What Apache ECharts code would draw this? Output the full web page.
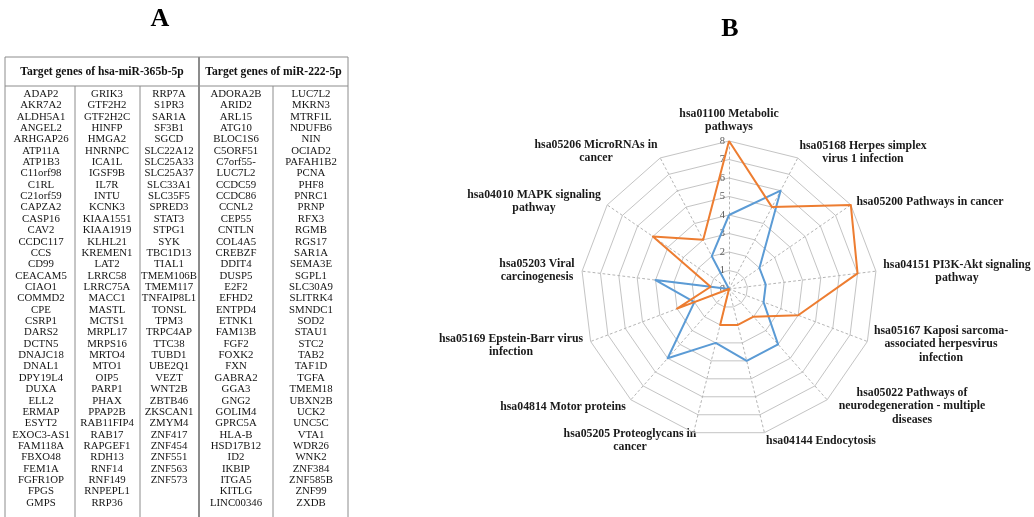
<!DOCTYPE html>
<html>
<head>
<meta charset="utf-8">
<script src="https://cdn.jsdelivr.net/npm/echarts@6/dist/echarts.min.js"></script>
<style>
  html, body { margin: 0; padding: 0; background: #ffffff; }
  #main { width: 1034px; height: 517px; }
</style>
</head>
<body>
<div id="main"></div>
<script>
// ---- Panel A: target gene lists ----
const header365b = 'Target genes of hsa-miR-365b-5p';
const header222 = 'Target genes of miR-222-5p';

const genes365bCol1 = ['ADAP2', 'AKR7A2', 'ALDH5A1', 'ANGEL2', 'ARHGAP26', 'ATP11A', 'ATP1B3', 'C11orf98', 'C1RL', 'C21orf59', 'CAPZA2', 'CASP16', 'CAV2', 'CCDC117', 'CCS', 'CD99', 'CEACAM5', 'CIAO1', 'COMMD2', 'CPE', 'CSRP1', 'DARS2', 'DCTN5', 'DNAJC18', 'DNAL1', 'DPY19L4', 'DUXA', 'ELL2', 'ERMAP', 'ESYT2', 'EXOC3-AS1', 'FAM118A', 'FBXO48', 'FEM1A', 'FGFR1OP', 'FPGS', 'GMPS'];
const genes365bCol2 = ['GRIK3', 'GTF2H2', 'GTF2H2C', 'HINFP', 'HMGA2', 'HNRNPC', 'ICA1L', 'IGSF9B', 'IL7R', 'INTU', 'KCNK3', 'KIAA1551', 'KIAA1919', 'KLHL21', 'KREMEN1', 'LAT2', 'LRRC58', 'LRRC75A', 'MACC1', 'MASTL', 'MCTS1', 'MRPL17', 'MRPS16', 'MRTO4', 'MTO1', 'OIP5', 'PARP1', 'PHAX', 'PPAP2B', 'RAB11FIP4', 'RAB17', 'RAPGEF1', 'RDH13', 'RNF14', 'RNF149', 'RNPEPL1', 'RRP36'];
const genes365bCol3 = ['RRP7A', 'S1PR3', 'SAR1A', 'SF3B1', 'SGCD', 'SLC22A12', 'SLC25A33', 'SLC25A37', 'SLC33A1', 'SLC35F5', 'SPRED3', 'STAT3', 'STPG1', 'SYK', 'TBC1D13', 'TIAL1', 'TMEM106B', 'TMEM117', 'TNFAIP8L1', 'TONSL', 'TPM3', 'TRPC4AP', 'TTC38', 'TUBD1', 'UBE2Q1', 'VEZT', 'WNT2B', 'ZBTB46', 'ZKSCAN1', 'ZMYM4', 'ZNF417', 'ZNF454', 'ZNF551', 'ZNF563', 'ZNF573'];
const genes222Col1 = ['ADORA2B', 'ARID2', 'ARL15', 'ATG10', 'BLOC1S6', 'C5ORF51', 'C7orf55-', 'LUC7L2', 'CCDC59', 'CCDC86', 'CCNL2', 'CEP55', 'CNTLN', 'COL4A5', 'CREBZF', 'DDIT4', 'DUSP5', 'E2F2', 'EFHD2', 'ENTPD4', 'ETNK1', 'FAM13B', 'FGF2', 'FOXK2', 'FXN', 'GABRA2', 'GGA3', 'GNG2', 'GOLIM4', 'GPRC5A', 'HLA-B', 'HSD17B12', 'ID2', 'IKBIP', 'ITGA5', 'KITLG', 'LINC00346'];
const genes222Col2 = ['LUC7L2', 'MKRN3', 'MTRF1L', 'NDUFB6', 'NIN', 'OCIAD2', 'PAFAH1B2', 'PCNA', 'PHF8', 'PNRC1', 'PRNP', 'RFX3', 'RGMB', 'RGS17', 'SAR1A', 'SEMA3E', 'SGPL1', 'SLC30A9', 'SLITRK4', 'SMNDC1', 'SOD2', 'STAU1', 'STC2', 'TAB2', 'TAF1D', 'TGFA', 'TMEM18', 'UBXN2B', 'UCK2', 'UNC5C', 'VTA1', 'WDR26', 'WNK2', 'ZNF384', 'ZNF585B', 'ZNF99', 'ZXDB'];

// ---- Panel B: KEGG pathway radar (listed clockwise from the top) ----
const pathways = [
  'hsa01100 Metabolic\npathways',
  'hsa05168 Herpes simplex\nvirus 1 infection',
  'hsa05200 Pathways in cancer',
  'hsa04151 PI3K-Akt signaling\npathway',
  'hsa05167 Kaposi sarcoma-\nassociated herpesvirus\ninfection',
  'hsa05022 Pathways of\nneurodegeneration - multiple\ndiseases',
  'hsa04144 Endocytosis',
  'hsa05205 Proteoglycans in\ncancer',
  'hsa04814 Motor proteins',
  'hsa05169 Epstein-Barr virus\ninfection',
  'hsa05203 Viral\ncarcinogenesis',
  'hsa04010 MAPK signaling\npathway',
  'hsa05206 MicroRNAs in\ncancer'
];
const countsMiR365b = [4, 6, 2, 2, 2, 4, 4, 3, 5, 2, 4, 0, 2];
const countsMiR222 = [8, 5, 8, 7, 4, 2, 2, 2, 0, 3, 1, 5, 3];
const radarMax = 8;

// ---- layout ----
const SERIF = '"Liberation Serif", "DejaVu Serif", serif';
const tableLeft = 5, tableRight = 348, tableTop = 57, headerBottom = 86, tableBottom = 530;
const groupDivider = 199;
const colDividers = [75, 140, 273];
const colCenters = [41, 107, 169, 236, 311];
const firstRowY = 94, rowPitch = 11.36;
const radarCenter = [729, 289];
const radarRadius = 148;
// anchor (centre of first line) for each pathway name, same order as pathways
const nameAnchors = [
  [729, 114], [863, 146], [930, 202], [957, 265], [941, 331], [912, 393], [821, 441],
  [630, 434], [563, 407], [511, 339], [537, 264], [534, 195], [596, 145]
];

const lineStroke = '#8c8c8c';
const graphics = [];

function hLine(x1, x2, y, w) {
  graphics.push({ type: 'line', silent: true, shape: { x1: x1, y1: y, x2: x2, y2: y }, style: { stroke: lineStroke, lineWidth: w || 1 } });
}
function vLine(x, y1, y2, w) {
  graphics.push({ type: 'line', silent: true, shape: { x1: x, y1: y1, x2: x, y2: y2 }, style: { stroke: lineStroke, lineWidth: w || 1 } });
}
function text(str, x, y, font, color, vAlign) {
  graphics.push({
    type: 'text', silent: true,
    style: {
      text: str, x: x, y: y, font: font, fill: color || '#111111',
      align: 'center', textAlign: 'center',
      verticalAlign: vAlign || 'middle', textVerticalAlign: vAlign || 'middle',
      lineHeight: 13.5
    }
  });
}

// panel letters
text('A', 160, 19, 'bold 26px ' + SERIF, '#000000');
text('B', 730, 29, 'bold 26px ' + SERIF, '#000000');

// table frame
hLine(tableLeft, tableRight, tableTop);
hLine(tableLeft, tableRight, headerBottom);
vLine(tableLeft, tableTop, tableBottom);
vLine(tableRight, tableTop, tableBottom);
vLine(groupDivider, tableTop, tableBottom, 2);
colDividers.forEach(function (x) { vLine(x, headerBottom, tableBottom); });

text(header365b, (tableLeft + groupDivider) / 2, 72, 'bold 11.6px ' + SERIF, '#111111');
text(header222, (groupDivider + tableRight) / 2, 72, 'bold 11.6px ' + SERIF, '#111111');

[genes365bCol1, genes365bCol2, genes365bCol3, genes222Col1, genes222Col2].forEach(function (col, c) {
  col.forEach(function (g, r) {
    text(g, colCenters[c], firstRowY + r * rowPitch, '10.8px ' + SERIF, '#141414');
  });
});

// pathway names around the radar
pathways.forEach(function (name, i) {
  text(name, nameAnchors[i][0], nameAnchors[i][1] - 7, 'bold 11.8px ' + SERIF, '#1a1a1a', 'top');
});

// ECharts lays radar indicators out counter-clockwise; reorder the clockwise lists
const order = pathways.map(function (_, k) { return (pathways.length - k) % pathways.length; });
const indicators = order.map(function (i, k) {
  const ind = { name: pathways[i], max: radarMax, min: 0 };
  if (k === 0) {
    ind.axisLabel = { show: true };
  }
  return ind;
});

const chart = echarts.init(document.getElementById('main'), null, { renderer: 'canvas' });
chart.setOption({
  animation: false,
  backgroundColor: '#ffffff',
  radar: {
    center: radarCenter,
    radius: radarRadius,
    startAngle: 90,
    shape: 'polygon',
    splitNumber: 8,
    indicator: indicators,
    axisName: { show: false },
    axisLine: { lineStyle: { color: '#b5b5b5', type: [2, 3], width: 1 } },
    splitLine: { lineStyle: { color: '#c4c4c4', width: 1 } },
    splitArea: { show: false },
    axisTick: { show: false },
    axisLabel: { show: false, fontFamily: SERIF, fontSize: 10.5, color: '#595959', margin: 4 }
  },
  series: [{
    type: 'radar',
    symbol: 'none',
    silent: true,
    data: [
      { name: 'hsa-miR-365b-5p', value: order.map(function (i) { return countsMiR365b[i]; }),
        lineStyle: { color: '#5b9bd5', width: 2 }, itemStyle: { color: '#5b9bd5' } },
      { name: 'miR-222-5p', value: order.map(function (i) { return countsMiR222[i]; }),
        lineStyle: { color: '#ed7d31', width: 2 }, itemStyle: { color: '#ed7d31' } }
    ]
  }],
  graphic: { elements: graphics }
});
</script>
</body>
</html>
